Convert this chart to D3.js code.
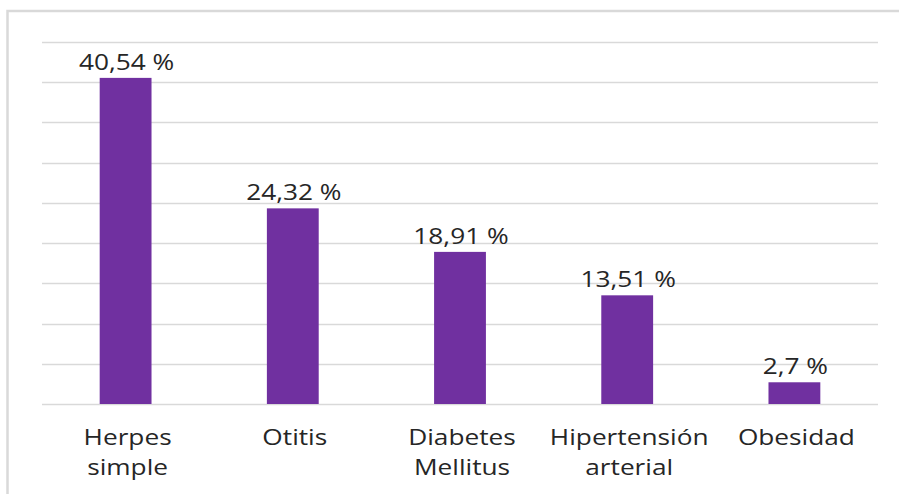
<!DOCTYPE html>
<html>
<head>
<meta charset="utf-8">
<script src="https://cdn.jsdelivr.net/npm/d3@7"></script>
<style>
  body { margin: 0; background: #fff; }
  svg { display: block; }
  text { font-family: "Open Sans", "Noto Sans", sans-serif; fill: #262626; }
</style>
</head>
<body>
<svg width="899" height="494"></svg>
<script>
// data
var categories = [["Herpes", "simple"], ["Otitis"], ["Diabetes", "Mellitus"], ["Hipertensión", "arterial"], ["Obesidad"]];
var values = [40.54, 24.32, 18.91, 13.51, 2.7];
var valueLabels = ["40,54 %", "24,32 %", "18,91 %", "13,51 %", "2,7 %"];
var gridTicks = [0, 5, 10, 15, 20, 25, 30, 35, 40, 45];

var stretch = 1.25; // text in the picture is drawn wide

var svg = d3.select('svg');

// outer chart border (runs off the right and bottom edges)
svg.append('rect')
  .attr('x', 7.5).attr('y', 11)
  .attr('width', 920).attr('height', 520)
  .attr('fill', 'none')
  .attr('stroke', '#d9d9d9')
  .attr('stroke-width', 2.5);

var x = d3.scaleBand()
  .domain(d3.range(values.length))
  .range([42, 878])
  .paddingInner(0.69)
  .paddingOuter(0.345);

var y = d3.scaleLinear()
  .domain([0, 45])
  .range([404, 42]);

// gridlines
svg.append('g')
  .selectAll('line')
  .data(gridTicks)
  .join('line')
  .attr('x1', 42)
  .attr('x2', 878)
  .attr('y1', d => Math.round(y(d)) + 0.5)
  .attr('y2', d => Math.round(y(d)) + 0.5)
  .attr('stroke', '#d9d9d9')
  .attr('stroke-width', 1.3);

// bars
svg.append('g')
  .selectAll('rect')
  .data(values)
  .join('rect')
  .attr('x', (d, i) => x(i))
  .attr('y', d => y(d))
  .attr('width', x.bandwidth())
  .attr('height', d => y(0) - y(d))
  .attr('fill', '#7030a0');

// value labels
svg.append('g')
  .selectAll('text')
  .data(values)
  .join('text')
  .attr('transform', (d, i) => 'translate(' + (x(i) + x.bandwidth() / 2 + 1) + ',' + (y(d) - 8) + ') scale(' + stretch + ',1)')
  .attr('text-anchor', 'middle')
  .attr('font-size', 21)
  .text((d, i) => valueLabels[i]);

// category labels, two lines where needed
var cat = svg.append('g')
  .selectAll('text')
  .data(categories)
  .join('text')
  .attr('transform', (d, i) => 'translate(' + (x(i) + x.bandwidth() / 2 + 2) + ',445) scale(' + stretch + ',1)')
  .attr('text-anchor', 'middle')
  .attr('font-size', 21);

cat.selectAll('tspan')
  .data(d => d)
  .join('tspan')
  .attr('x', 0)
  .attr('dy', (d, i) => i === 0 ? 0 : 30)
  .text(d => d);
</script>
</body>
</html>
